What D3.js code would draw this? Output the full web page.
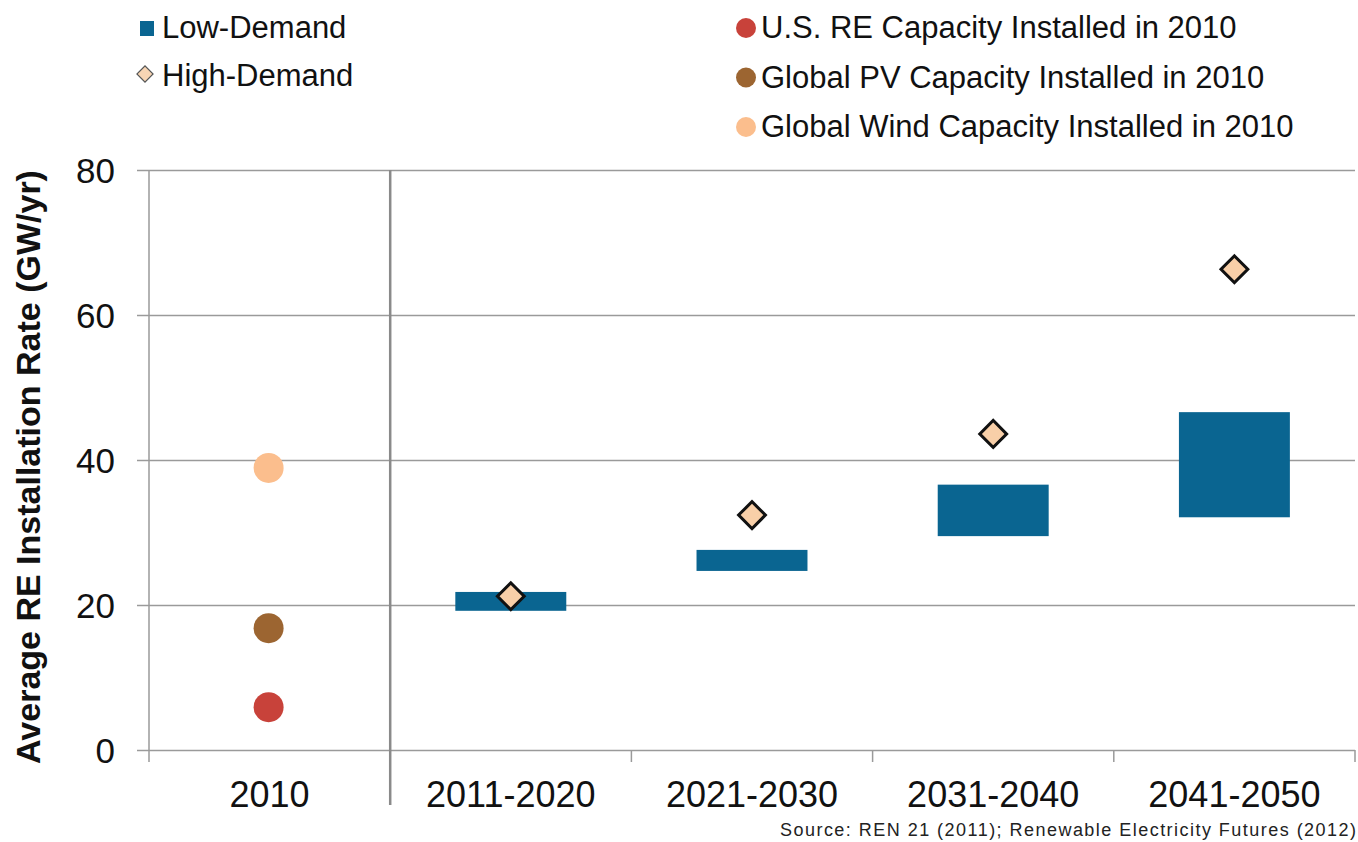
<!DOCTYPE html>
<html lang="en">
<head>
<meta charset="UTF-8">
<title>RE installation rate</title>
<script src="https://cdn.jsdelivr.net/npm/d3@7"></script>
<style>
    body { margin: 0; background: #fff; }
    svg { display: block; font-family: "Liberation Sans", Arial, sans-serif; }
</style>
</head>
<body>
<script>
'use strict';

// categories on the x axis
var periods = ['2010', '2011-2020', '2021-2030', '2031-2040', '2041-2050'];
var yTicks = [0, 20, 40, 60, 80];

// low-demand range (floating bars) per period
var lowPeriods = ['2011-2020', '2021-2030', '2031-2040', '2041-2050'];
var lowMin = [19.2, 24.7, 29.5, 32.1];
var lowMax = [21.8, 27.6, 36.6, 46.6];

// high-demand point per period
var highValues = [21.2, 32.4, 43.6, 66.3];

// 2010 reference points
var refNames = ['U.S. RE Capacity Installed in 2010', 'Global PV Capacity Installed in 2010', 'Global Wind Capacity Installed in 2010'];
var refValues = [5.9, 16.8, 38.9];
var refColors = ['#c8423a', '#9c6531', '#fbbe8d'];

var W = 1358, H = 842;
var pLeft = 149, pRight = 1355, pTop = 170, pBottom = 750;

var svg = d3.select('body').append('svg')
    .attr('width', W)
    .attr('height', H);

var x = d3.scaleBand().domain(periods).range([pLeft, pRight]);
var y = d3.scaleLinear().domain([0, 80]).range([pBottom, pTop]);

// gridlines + y ticks
svg.append('g')
    .attr('transform', 'translate(' + pLeft + ',0)')
    .call(d3.axisLeft(y).tickValues(yTicks).tickSize(-(pRight - pLeft)).tickSizeOuter(0))
    .call(g => g.select('.domain').remove())
    .call(g => g.selectAll('.tick line').attr('stroke', '#9a9a9a').attr('stroke-width', 1.5).attr('x1', -12))
    .call(g => g.selectAll('.tick text').attr('fill', '#111').style('font-size', '35px').attr('x', -34).attr('dy', '0.35em'));

// y axis line
svg.append('line')
    .attr('x1', pLeft).attr('x2', pLeft)
    .attr('y1', pTop).attr('y2', pBottom + 12)
    .attr('stroke', '#9a9a9a').attr('stroke-width', 1.5);

// x axis ticks + labels
var xAxis = svg.append('g')
    .attr('transform', 'translate(0,' + pBottom + ')')
    .call(d3.axisBottom(x).tickSize(0).tickPadding(31))
    .call(g => g.select('.domain').remove())
    .call(g => g.selectAll('.tick text').attr('fill', '#111').style('font-size', '36px'));

xAxis.selectAll('.sep')
    .data(periods.slice(2).concat(['end']))
    .enter().append('line')
    .attr('x1', d => d === 'end' ? pRight : x(d))
    .attr('x2', d => d === 'end' ? pRight : x(d))
    .attr('y1', 0).attr('y2', 12)
    .attr('stroke', '#9a9a9a').attr('stroke-width', 1.5);

// divider between 2010 and projections
svg.append('line')
    .attr('x1', x('2011-2020')).attr('x2', x('2011-2020'))
    .attr('y1', pTop).attr('y2', 805)
    .attr('stroke', '#8a8a8a').attr('stroke-width', 2.5);

// low-demand floating bars
var barW = x.bandwidth() * 0.46;
svg.selectAll('.low')
    .data(lowPeriods)
    .enter().append('rect')
    .attr('x', d => x(d) + (x.bandwidth() - barW) / 2)
    .attr('width', barW)
    .attr('y', (d, i) => y(lowMax[i]))
    .attr('height', (d, i) => y(lowMin[i]) - y(lowMax[i]))
    .attr('fill', '#0a6591');

// high-demand diamonds
var diamond = d3.symbol().type(d3.symbolSquare).size(360);
svg.selectAll('.high')
    .data(lowPeriods)
    .enter().append('path')
    .attr('d', diamond)
    .attr('transform', (d, i) => 'translate(' + (x(d) + x.bandwidth() / 2) + ',' + y(highValues[i]) + ') rotate(45)')
    .attr('fill', '#f8cfa8')
    .attr('stroke', '#111')
    .attr('stroke-width', 3);

// 2010 dots
svg.selectAll('.ref')
    .data(refValues)
    .enter().append('circle')
    .attr('cx', x('2010') + x.bandwidth() / 2 - 1)
    .attr('cy', d => y(d))
    .attr('r', 15)
    .attr('fill', (d, i) => refColors[i]);

// y axis title
svg.append('text')
    .attr('transform', 'translate(40,467) rotate(-90)')
    .attr('text-anchor', 'middle')
    .style('font-size', '34px')
    .style('font-weight', 'bold')
    .attr('fill', '#111')
    .text('Average RE Installation Rate (GW/yr)');

// legend
var lg = svg.append('g').style('font-size', '31px').attr('fill', '#111');
lg.append('rect').attr('x', 140).attr('y', 21).attr('width', 14).attr('height', 15).attr('fill', '#0a6591');
lg.append('text').attr('x', 162).attr('y', 38).text('Low-Demand');
lg.append('path').attr('d', d3.symbol().type(d3.symbolSquare).size(130))
    .attr('transform', 'translate(145,74) rotate(45)')
    .attr('fill', '#f8d5b4').attr('stroke', '#555').attr('stroke-width', 1.2);
lg.append('text').attr('x', 162).attr('y', 86).text('High-Demand');

refNames.forEach(function(name, i) {
    var yy = 28 + i * 49.5;
    lg.append('circle').attr('cx', 746).attr('cy', yy).attr('r', 10).attr('fill', refColors[i]);
    lg.append('text').attr('x', 761).attr('y', yy + 10).text(name);
});

// source note
svg.append('text')
    .attr('x', 780).attr('y', 836)
    .attr('textLength', 576)
    .attr('lengthAdjust', 'spacing')
    .style('font-size', '18px')
    .attr('fill', '#222')
    .text('Source: REN 21 (2011);  Renewable  Electricity Futures (2012)');
</script>
</body>
</html>
